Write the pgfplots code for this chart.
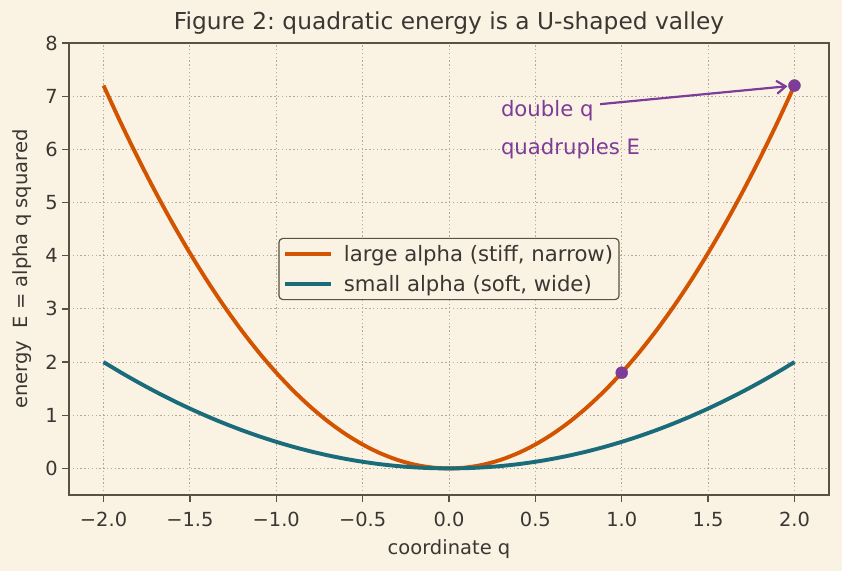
\documentclass[border=0pt]{standalone}
\usepackage{fontspec}
\setmainfont{DejaVu Sans}
\usepackage{pgfplots}
\pgfplotsset{compat=1.18}
\usepackage{pgfplotstable}
\usetikzlibrary{arrows.meta}
\frenchspacing

\definecolor{bg}{HTML}{FAF3E4}
\definecolor{ink}{HTML}{3B3632}
\definecolor{spine}{HTML}{5A5045}
\definecolor{gridc}{HTML}{B3AA9A}
\definecolor{stiff}{HTML}{D35400}
\definecolor{soft}{HTML}{1B6C7A}
\definecolor{hilite}{HTML}{7D3C98}

% E = alpha q^2 sampled every 0.1: large alpha = 1.8, small alpha = 0.5
\pgfplotstableread{
q     large  small
-2.0  7.200  2.000
-1.9  6.498  1.805
-1.8  5.832  1.620
-1.7  5.202  1.445
-1.6  4.608  1.280
-1.5  4.050  1.125
-1.4  3.528  0.980
-1.3  3.042  0.845
-1.2  2.592  0.720
-1.1  2.178  0.605
-1.0  1.800  0.500
-0.9  1.458  0.405
-0.8  1.152  0.320
-0.7  0.882  0.245
-0.6  0.648  0.180
-0.5  0.450  0.125
-0.4  0.288  0.080
-0.3  0.162  0.045
-0.2  0.072  0.020
-0.1  0.018  0.005
 0.0  0.000  0.000
 0.1  0.018  0.005
 0.2  0.072  0.020
 0.3  0.162  0.045
 0.4  0.288  0.080
 0.5  0.450  0.125
 0.6  0.648  0.180
 0.7  0.882  0.245
 0.8  1.152  0.320
 0.9  1.458  0.405
 1.0  1.800  0.500
 1.1  2.178  0.605
 1.2  2.592  0.720
 1.3  3.042  0.845
 1.4  3.528  0.980
 1.5  4.050  1.125
 1.6  4.608  1.280
 1.7  5.202  1.445
 1.8  5.832  1.620
 1.9  6.498  1.805
 2.0  7.200  2.000
}\energy

\begin{document}
\begin{tikzpicture}[x=1pt,y=1pt]
\fill[bg] (0,0) rectangle (842,571);
\useasboundingbox (0,0) rectangle (842,571);
\begin{axis}[
  at={(69pt,76pt)}, anchor=south west,
  scale only axis, width=760pt, height=452pt,
  xmin=-2.2, xmax=2.2, ymin=-0.5, ymax=8,
  xtick={-2,-1.5,-1,-0.5,0,0.5,1,1.5,2},
  xticklabels={−2.0,−1.5,−1.0,−0.5,0.0,0.5,1.0,1.5,2.0},
  ytick={0,1,2,3,4,5,6,7,8},
  /pgf/number format/assume math mode=true,
  xtick pos=bottom, ytick pos=left,
  tick align=outside, major tick length=6.8pt,
  every tick/.style={spine, line width=1.3pt},
  axis line style={spine, line width=1.6pt},
  axis background/.style={fill=bg},
  grid=major,
  major grid style={gridc, line width=0.9pt, dash pattern=on 1.4pt off 2.4pt},
  tick label style={font=\fontsize{19.4}{23}\selectfont, text=ink},
  xticklabel style={yshift=-7pt},
  yticklabel style={xshift=-1pt},
  xlabel={coordinate q},
  ylabel={energy\ \ E = alpha q squared},
  label style={font=\fontsize{19.5}{23}\selectfont, text=ink},
  xlabel style={yshift=-6pt},
  ylabel style={yshift=7pt},
  title={Figure 2: quadratic energy is a U-shaped valley},
  title style={font=\fontsize{23.3}{27}\selectfont, text=ink, yshift=-1pt},
  legend style={at={(0.5,0.5)}, anchor=center, draw=spine, fill=bg,
    rounded corners=4pt, line width=1.2pt, text=ink,
    font=\fontsize{21.2}{25}\selectfont,
    row sep=8pt, inner xsep=4pt, inner ysep=5pt},
  legend cell align=left,
  legend image code/.code={\draw[#1] (0pt,0pt) -- (46pt,0pt);},
]
\addplot[stiff, line width=3.9pt, smooth] table[x=q, y=large]{\energy};
\addlegendentry{\hspace*{9pt}large alpha (stiff, narrow)}
\addplot[soft, line width=3.9pt, smooth] table[x=q, y=small]{\energy};
\addlegendentry{\hspace*{9pt}small alpha (soft, wide)}
\addplot[only marks, mark=*, mark size=6pt, hilite,
  mark options={fill=hilite, draw=hilite}, forget plot]
  coordinates {(1,1.8) (2,7.2)};
\draw[hilite, line width=2.2pt, -{Straight Barb[length=9pt, width=13pt]},
  shorten >=7pt] (axis cs:0.875,6.85) -- (axis cs:2,7.2);
\node[anchor=west, inner sep=0pt, text=hilite,
  font=\fontsize{21.2}{25}\selectfont] at (axis cs:0.3,6.72) {double q};
\node[anchor=west, inner sep=0pt, text=hilite,
  font=\fontsize{21.2}{25}\selectfont] at (axis cs:0.3,6.01) {quadruples E};
\end{axis}
\end{tikzpicture}
\end{document}
